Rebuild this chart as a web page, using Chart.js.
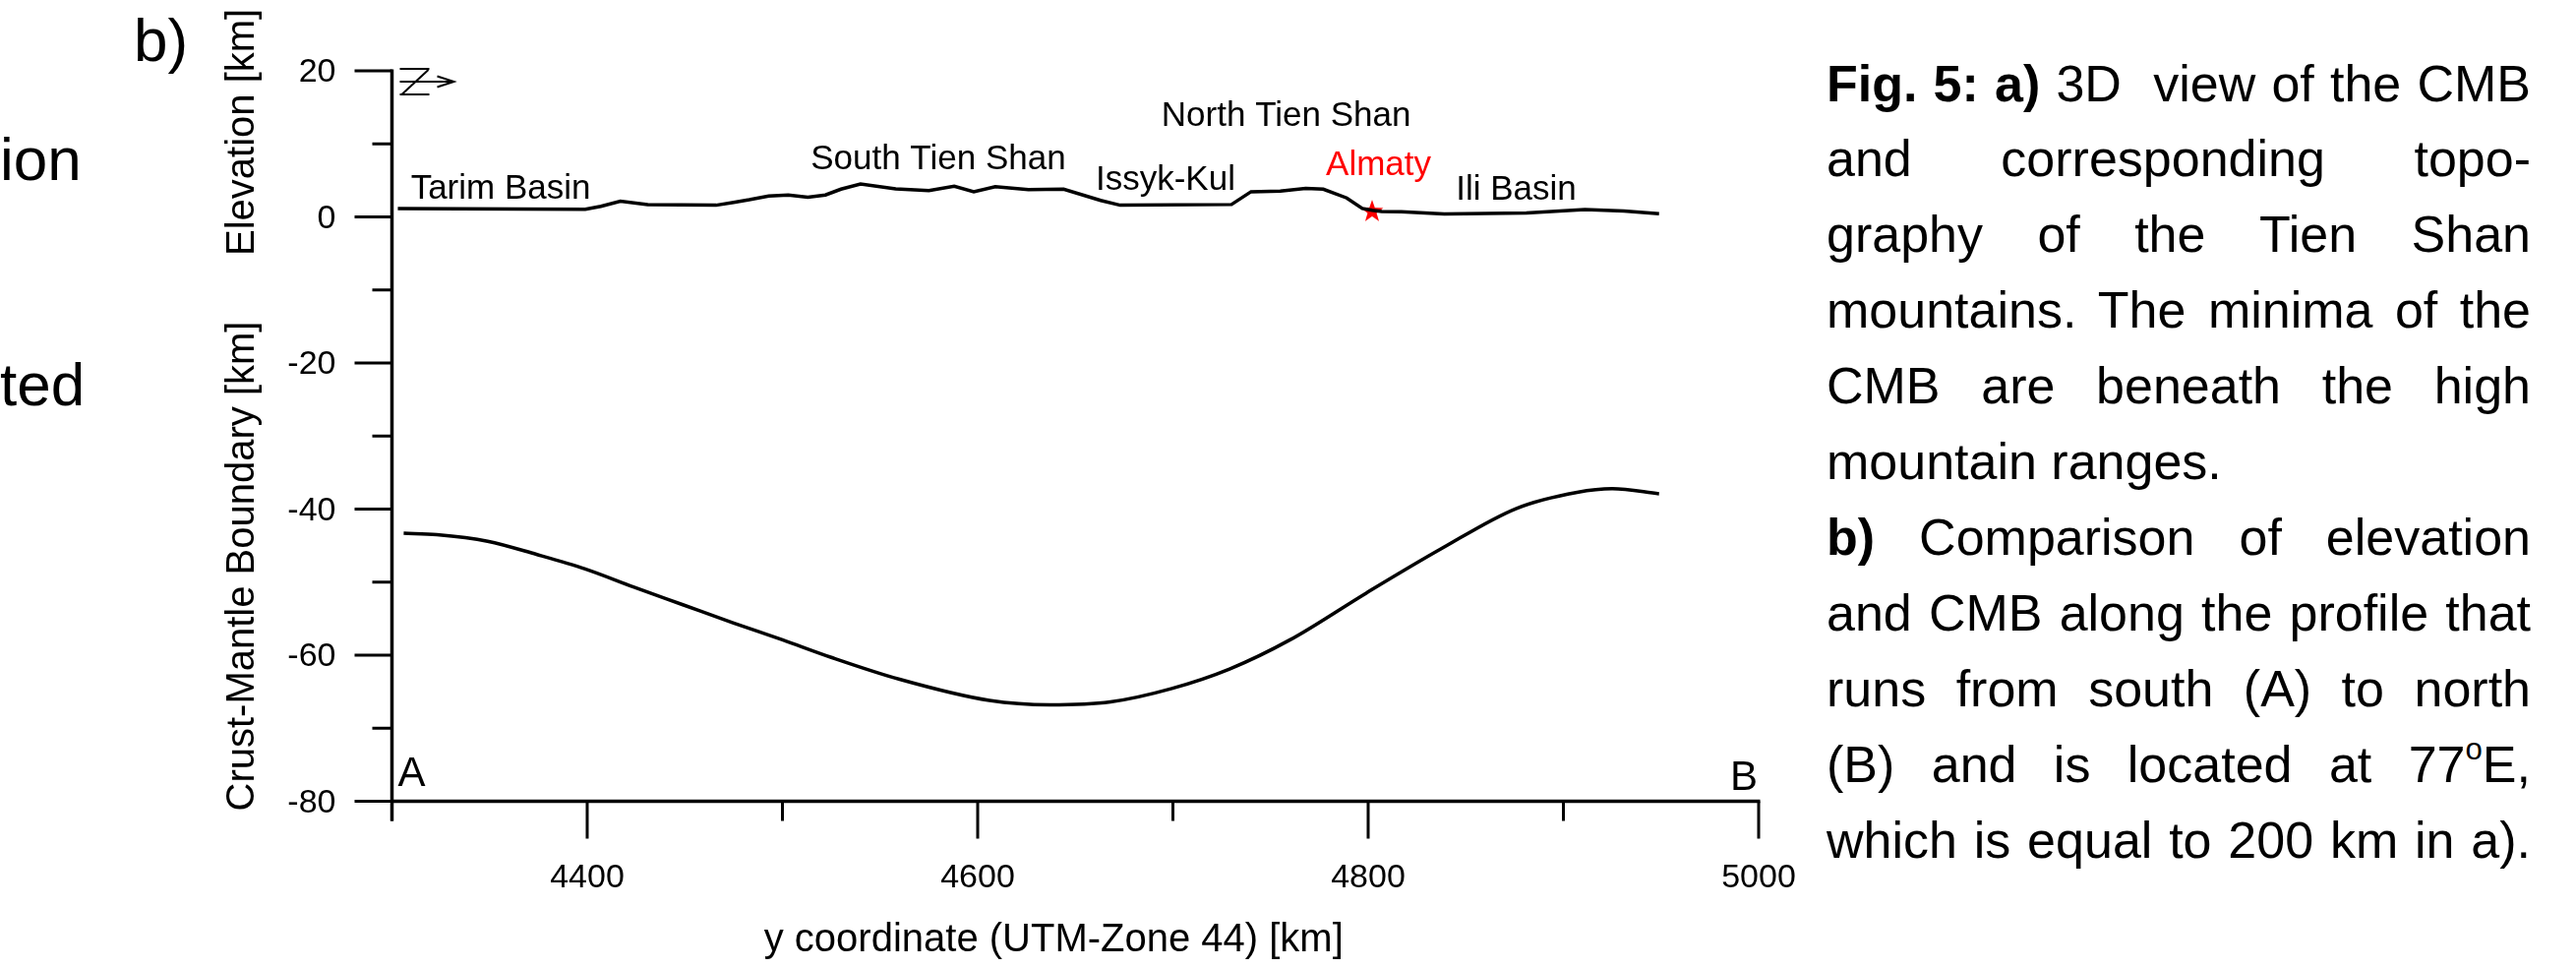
<!DOCTYPE html>
<html lang="en">
<head>
<meta charset="UTF-8">
<title>Fig. 5 b) Elevation and CMB along the profile</title>
<script src="https://cdn.jsdelivr.net/npm/chart.js@4"></script>
<style>
  html, body { margin: 0; padding: 0; background: #fff; }
  body { width: 2619px; height: 984px; position: relative; overflow: hidden;
         font-family: 'Liberation Sans', Arial, sans-serif; color: #000; }
  #wrap { position: absolute; left: 0; top: 0; width: 1850px; height: 984px; }
  .cut { position: absolute; left: 0; font-size: 62px; line-height: 62px; white-space: nowrap; }
  #caption { position: absolute; left: 1857px; top: 46.5px; width: 716px;
             font-size: 52px; line-height: 76.9px; }
  #caption div { text-align: justify; text-align-last: justify; }
  #caption div.last { text-align-last: left; }
  #caption sup { font-size: 0.6em; line-height: 0; vertical-align: 0.75em; }
</style>
</head>
<body>
  <div class="cut" style="top:130.5px">ion</div>
  <div class="cut" style="top:359.5px">ted</div>

  <div id="wrap"><canvas id="profile" width="1850" height="984"></canvas></div>

  <div id="caption">
    <div><b>Fig. 5: a)</b> 3D&nbsp; view of the CMB</div>
    <div>and corresponding topo-</div>
    <div>graphy of the Tien Shan</div>
    <div>mountains. The minima of the</div>
    <div>CMB are beneath the high</div>
    <div class="last">mountain ranges.</div>
    <div><b>b)</b> Comparison of elevation</div>
    <div>and CMB along the profile that</div>
    <div>runs from south (A) to north</div>
    <div>(B) and is located at 77<sup>o</sup>E,</div>
    <div>which is equal to 200 km in a).</div>
  </div>

<script>
// profile data, y coordinate in km (UTM zone 44)
const elevKm  = [4303, 4399, 4407, 4417, 4431, 4466, 4475, 4483, 4493, 4503, 4513, 4522, 4530, 4540,
                 4558, 4575, 4588, 4598, 4609, 4626, 4644, 4663, 4673, 4730, 4740, 4755, 4768, 4777,
                 4789, 4797, 4802, 4807, 4817, 4839, 4881, 4911, 4931, 4949];
const elevVal = [1.15, 1.05, 1.45, 2.15, 1.7, 1.6, 2.0, 2.35, 2.85, 3.0, 2.7, 3.0, 3.8, 4.5,
                 3.85, 3.6, 4.2, 3.45, 4.15, 3.75, 3.8, 2.25, 1.6, 1.7, 3.45, 3.55, 3.9, 3.8,
                 2.6, 1.15, 0.9, 0.75, 0.7, 0.4, 0.55, 1.0, 0.8, 0.45];

const cmbKm  = [4306, 4323, 4349, 4374, 4399, 4424, 4449, 4475, 4500, 4525, 4560, 4606, 4637,
                4668, 4699, 4729, 4760, 4799, 4837, 4876, 4907, 4925, 4949];
const cmbVal = [-43.3, -43.5, -44.4, -46.2, -48.2, -50.7, -53.1, -55.6, -57.9, -60.3, -63.3, -66.2, -66.8,
                -66.4, -64.6, -61.9, -57.9, -51.5, -45.5, -39.9, -37.7, -37.2, -37.9];

const almatyKm  = [4802];
const almatyVal = [0.9];

const xTicks  = [4300, 4400, 4500, 4600, 4700, 4800, 4900, 5000];
const xLabels = [4400, 4600, 4800, 5000];
const yTicks  = [20, 10, 0, -10, -20, -30, -40, -50, -60, -70, -80];
const yLabels = [20, 0, -20, -40, -60, -80];

// place names, anchored in data units (centre of the text, baseline)
const regionNames = ['Tarim Basin', 'South Tien Shan', 'Issyk-Kul', 'North Tien Shan', 'Almaty', 'Ili Basin'];
const regionKm    = [4355.7, 4579.8, 4696.2, 4758, 4805.3, 4875.8];
const regionElev  = [2.5, 6.5, 3.66, 12.4, 5.72, 2.3];

const FONT = '"Liberation Sans", Arial, sans-serif';
const MAJOR = 38, MINOR = 20;

function starImage(r, color) {
    const s = Math.ceil(r * 2 + 2);
    const c = document.createElement('canvas');
    c.width = s; c.height = s;
    const g = c.getContext('2d');
    g.fillStyle = color;
    g.beginPath();
    for (let i = 0; i < 10; i++) {
        const rr = i % 2 ? r * 0.4 : r;
        const a = -Math.PI / 2 + i * Math.PI / 5;
        g.lineTo(s / 2 + rr * Math.cos(a), s / 2 + rr * Math.sin(a) + r * 0.1);
    }
    g.closePath();
    g.fill();
    return c;
}

function seg(ctx, ax, ay, bx, by) {
    ctx.beginPath();
    ctx.moveTo(ax, ay);
    ctx.lineTo(bx, by);
    ctx.stroke();
}

const axesPlugin = {
    id: 'profileAxes',
    afterDraw(chart) {
        const ctx = chart.ctx;
        const x = chart.scales.x, y = chart.scales.y;
        const x0 = x.getPixelForValue(x.min), x1 = x.getPixelForValue(x.max);
        const yTop = y.getPixelForValue(y.max), yBot = y.getPixelForValue(y.min);

        ctx.save();
        ctx.strokeStyle = '#000';
        ctx.fillStyle = '#000';
        ctx.lineWidth = 3.5;

        // axis lines, the left one runs on below the bottom axis
        seg(ctx, x0, yTop - 1.5, x0, yBot + MINOR);
        seg(ctx, x0 - 1.5, yBot, x1 + 1.5, yBot);

        ctx.lineWidth = 3;
        yTicks.forEach(v => {
            const p = y.getPixelForValue(v);
            seg(ctx, x0 - (yLabels.includes(v) ? MAJOR : MINOR), p, x0, p);
        });
        xTicks.forEach(v => {
            const p = x.getPixelForValue(v);
            seg(ctx, p, yBot, p, yBot + (xLabels.includes(v) ? MAJOR : MINOR));
        });

        // tick labels
        ctx.font = '34px ' + FONT;
        ctx.textAlign = 'right';
        ctx.textBaseline = 'middle';
        yLabels.forEach(v => ctx.fillText(String(v), x0 - 57, y.getPixelForValue(v) + 2));
        ctx.textAlign = 'center';
        ctx.textBaseline = 'alphabetic';
        xLabels.forEach(v => ctx.fillText(String(v), x.getPixelForValue(v), yBot + 87.5));

        // axis titles
        ctx.font = '40px ' + FONT;
        ctx.fillText('y coordinate (UTM-Zone 44) [km]', (x0 + x1) / 2 - 22, yBot + 152);
        ctx.textAlign = 'left';
        ctx.save();
        ctx.translate(x0 - 141, y.getPixelForValue(y.max) + 188);
        ctx.rotate(-Math.PI / 2);
        ctx.fillText('Elevation [km]', 0, 0);
        ctx.restore();
        ctx.save();
        ctx.translate(x0 - 141, yBot + 10);
        ctx.rotate(-Math.PI / 2);
        ctx.fillText('Crust-Mantle Boundary [km]', 0, 0);
        ctx.restore();

        // panel letter and profile ends
        ctx.font = '62px ' + FONT;
        ctx.fillText('b)', 136, 62);
        ctx.font = '42px ' + FONT;
        ctx.fillText('A', x0 + 6, yBot - 16);
        ctx.textAlign = 'right';
        ctx.fillText('B', x1 - 1, yBot - 12);

        // place names
        ctx.font = '35px ' + FONT;
        ctx.textAlign = 'center';
        regionNames.forEach((name, i) => {
            ctx.fillStyle = name === 'Almaty' ? '#ff0000' : '#000';
            ctx.fillText(name, x.getPixelForValue(regionKm[i]), y.getPixelForValue(regionElev[i]));
        });

        // north arrow next to the top of the axis
        ctx.lineWidth = 2;
        const ax = x0 + 8, ay = yTop - 2;
        seg(ctx, ax, ay, ax + 30, ay);
        seg(ctx, ax + 29, ay + 1, ax + 2, ay + 26);
        seg(ctx, ax, ay + 26, ax + 30, ay + 26);
        seg(ctx, ax, ay + 13, ax + 55, ay + 13);
        ctx.beginPath();
        ctx.moveTo(ax + 38, ay + 7.5);
        ctx.lineTo(ax + 55, ay + 13);
        ctx.lineTo(ax + 38, ay + 18.5);
        ctx.stroke();

        ctx.restore();
    }
};

const ctx = document.getElementById('profile').getContext('2d');
const chart = new Chart(ctx, {
    type: 'line',
    data: {
        datasets: [{
            label: 'Elevation',
            data: elevKm.map((k, i) => ({ x: k, y: elevVal[i] })),
            borderColor: '#000',
            borderWidth: 3.5,
            pointRadius: 0,
            tension: 0
        }, {
            label: 'Crust-Mantle Boundary',
            data: cmbKm.map((k, i) => ({ x: k, y: cmbVal[i] })),
            borderColor: '#000',
            borderWidth: 3.5,
            pointRadius: 0,
            cubicInterpolationMode: 'monotone'
        }, {
            label: 'Almaty',
            data: almatyKm.map((k, i) => ({ x: k, y: almatyVal[i] })),
            showLine: false,
            pointStyle: starImage(12, '#ff0000'),
            pointRadius: 12
        }]
    },
    options: {
        responsive: false,
        animation: false,
        events: [],
        layout: { padding: { left: 398.5, right: 62, top: 72, bottom: 169.5 } },
        plugins: { legend: { display: false }, tooltip: { enabled: false } },
        scales: {
            x: { type: 'linear', min: 4300, max: 5000, display: false },
            y: { type: 'linear', min: -80, max: 20, display: false }
        }
    },
    plugins: [axesPlugin]
});
</script>
</body>
</html>
